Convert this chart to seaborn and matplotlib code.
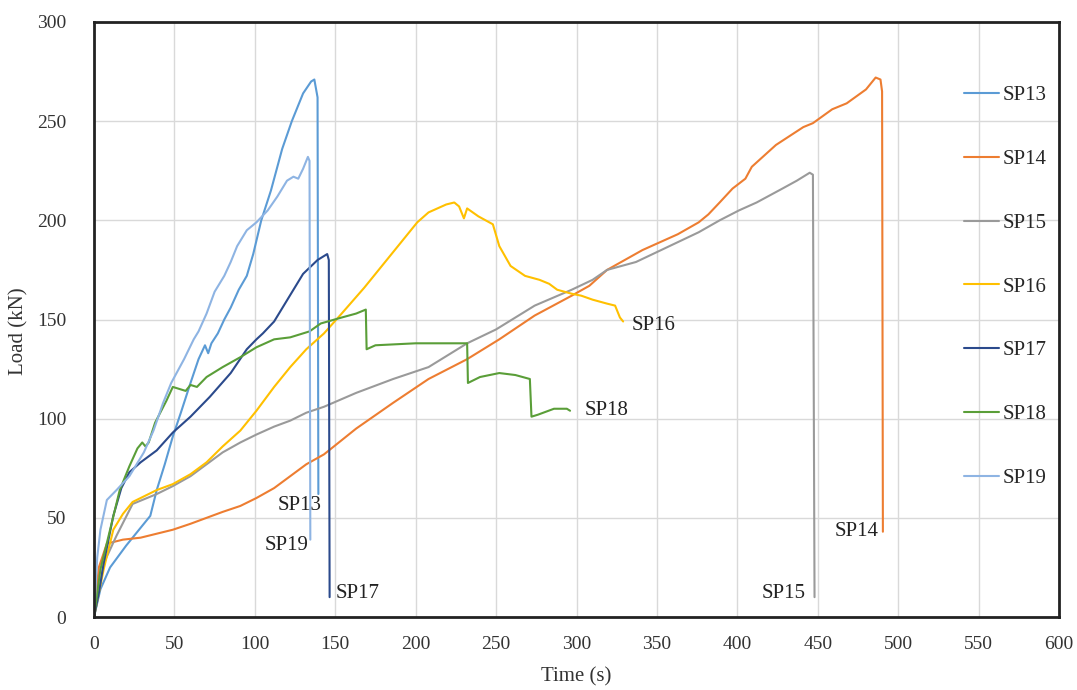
import pandas as pd
import matplotlib
matplotlib.use("Agg")
import matplotlib.pyplot as plt
import seaborn as sns

# load-time curves
specimens = ["SP13", "SP14", "SP15", "SP16", "SP17", "SP18", "SP19"]

sp13_t = [0, 4, 10, 20, 28, 35, 39, 44, 49, 54, 60, 65, 69, 71, 73, 77, 81, 85, 90, 95, 99,
          104, 110, 117, 123, 130, 135, 137, 139, 139.5]
sp13_l = [0, 14, 25, 36, 44, 51, 64, 77, 91, 103, 118, 130, 137, 133, 138, 143, 150, 156, 165,
          172, 183, 200, 215, 236, 250, 264, 270, 271, 262, 62]

sp14_t = [0, 3, 8, 18, 29, 39, 49, 60, 70, 80, 91, 101, 112, 122, 132, 143, 163, 186, 208, 232,
          252, 274, 297, 308, 319, 341, 363, 376, 382, 389, 397, 405, 409, 424, 441, 447, 459,
          468, 480, 486, 489, 490, 490.5]
sp14_l = [0, 25, 37, 39, 40, 42, 44, 47, 50, 53, 56, 60, 65, 71, 77, 82, 95, 108, 120, 130,
          140, 152, 162, 167, 175, 185, 193, 199, 203, 209, 216, 221, 227, 238, 247, 249, 256,
          259, 266, 272, 271, 265, 43]

sp15_t = [0, 6, 14, 24, 39, 49, 60, 70, 80, 91, 101, 112, 122, 132, 143, 163, 186, 208, 232,
          250, 274, 297, 310, 319, 337, 363, 376, 389, 401, 412, 428, 437, 445, 447, 448]
sp15_l = [0, 27, 41, 57, 62, 66, 71, 77, 83, 88, 92, 96, 99, 103, 106, 113, 120, 126, 138,
          145, 157, 165, 170, 175, 179, 189, 194, 200, 205, 209, 216, 220, 224, 223, 10]

sp16_t = [0, 6, 12, 18, 24, 39, 49, 60, 70, 80, 91, 101, 112, 122, 132, 143, 154, 168, 186,
          201, 208, 219, 224, 227, 230, 232, 239, 248, 252, 259, 268, 277, 283, 288, 297, 303,
          310, 319, 324, 327, 329]
sp16_l = [0, 24, 44, 52, 58, 64, 67, 72, 78, 86, 94, 104, 116, 126, 135, 143, 153, 166, 184,
          199, 204, 208, 209, 207, 201, 206, 202, 198, 187, 177, 172, 170, 168, 165, 163, 162,
          160, 158, 157, 151, 149]

sp17_t = [0, 3, 6, 12, 17, 22, 29, 39, 49, 60, 72, 85, 95, 101, 105, 112, 118, 124, 130, 139,
          145, 146, 146.5]
sp17_l = [0, 12, 27, 51, 65, 73, 78, 84, 93, 101, 111, 123, 135, 140, 143, 149, 157, 165, 173,
          180, 183, 180, 10]

sp18_t = [0, 4, 10, 16, 22, 27, 30, 32, 34, 38, 45, 49, 53, 57, 60, 64, 70, 80, 91, 101, 112,
          122, 134, 141, 154, 163, 169, 169.5, 175, 200, 220, 232, 232.5, 240, 252, 262, 271,
          272, 276, 286, 294, 296]
sp18_l = [0, 24, 44, 64, 76, 85, 88, 86, 88, 98, 109, 116, 115, 114, 117, 116, 121, 126, 131,
          136, 140, 141, 144, 148, 151, 153, 155, 135, 137, 138, 138, 138, 118, 121, 123, 122,
          120, 101, 102, 105, 105, 104]

sp19_t = [0, 2, 4, 8, 14, 22, 31, 37, 43, 48, 56, 62, 65, 70, 75, 81, 85, 89, 95, 101, 108,
          114, 120, 124, 127, 130, 133, 134, 134.5]
sp19_l = [0, 30, 44, 59, 64, 71, 83, 94, 108, 118, 130, 140, 144, 153, 164, 172, 179, 187, 195,
          199, 205, 212, 220, 222, 221, 226, 232, 230, 39]

# end-of-curve labels (text, time, load)
end_labels = [("SP13", 128, 56), ("SP19", 120, 36), ("SP17", 164, 12), ("SP16", 348, 147),
              ("SP18", 319, 104), ("SP15", 429, 12), ("SP14", 474, 43)]

colors = ["#5B9BD5", "#ED7D31", "#9A9A9A", "#FFC000", "#2B4A8C", "#5A9E38", "#8EB4E3"]

times = [sp13_t, sp14_t, sp15_t, sp16_t, sp17_t, sp18_t, sp19_t]
loads = [sp13_l, sp14_l, sp15_l, sp16_l, sp17_l, sp18_l, sp19_l]
frames = []
for name, t, l in zip(specimens, times, loads):
    frames.append(pd.DataFrame({"Time": t, "Load": l, "Specimen": name}))
df = pd.concat(frames, ignore_index=True)

sns.set_style("whitegrid")
plt.rcParams["font.family"] = ["Liberation Serif", "DejaVu Serif"]

fig = plt.figure(figsize=(10.77, 6.9), dpi=100)
ax = fig.add_axes([94 / 1077, 73 / 690, 965 / 1077, 595 / 690])

sns.lineplot(data=df, x="Time", y="Load", hue="Specimen", palette=colors,
             estimator=None, sort=False, linewidth=1.5, ax=ax)

for txt, t, l in end_labels:
    ax.text(t, l, txt, fontsize=15, ha="center", va="center", color="#222222")

ax.set_xlim(0, 600)
ax.set_ylim(0, 300)
ax.set_xticks(range(0, 601, 50))
ax.set_yticks(range(0, 301, 50))
ax.grid(True, color="#d9d9d9", linewidth=1)
ax.tick_params(length=0, labelsize=14, colors="#333333")
ax.tick_params(axis="y", pad=20)
ax.tick_params(axis="x", pad=14)
for sp in ax.spines.values():
    sp.set_color("#222222")
    sp.set_linewidth(2)

ax.set_xlabel("Time (s)", fontsize=15, color="#333333")
ax.set_ylabel("Load (kN)", fontsize=15, color="#333333")
ax.xaxis.set_label_coords(0.5, -0.085)
ax.yaxis.set_label_coords(-0.068, 0.48)

handles, labels = ax.get_legend_handles_labels()
leg = ax.legend(handles, labels, loc="center right", bbox_to_anchor=(1.0, 0.555),
                frameon=False, fontsize=15, labelspacing=2.12, handlelength=1.7,
                handletextpad=0.15, borderaxespad=0.2)

fig.savefig("out.png", dpi=100)
